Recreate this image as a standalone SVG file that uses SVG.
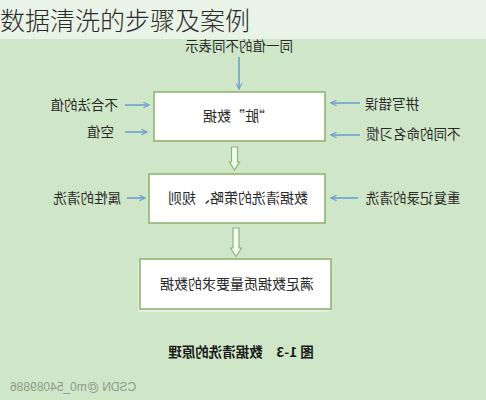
<svg xmlns="http://www.w3.org/2000/svg" width="486" height="400" viewBox="0 0 486 400">
<defs>
<style>
.t{font-family:"Noto Sans CJK SC","Liberation Serif",serif;font-size:13.5px;fill:#2a2a2a}
.bt{font-family:"Noto Sans CJK SC","Liberation Serif",serif;font-size:14px;fill:#2a2a2a;text-anchor:middle}
.box{fill:#ffffff;stroke:#8fb572;stroke-width:1.6}
.ar{stroke:#6c9fd2;stroke-width:1.6;fill:none}
.hol{fill:#f4fbf1;stroke:#8fb572;stroke-width:1.2}
</style>
<marker id="ah" viewBox="0 0 10 10" refX="9" refY="5" markerWidth="7" markerHeight="7" orient="auto" markerUnits="userSpaceOnUse">
<path d="M1,1 L9,5 L1,9" fill="none" stroke="#6c9fd2" stroke-width="1.6"/>
</marker>
</defs>
<rect x="0" y="0" width="486" height="400" fill="#cfe7c8"/>
<g transform="translate(486,0) scale(-1,1)">
<text class="t" x="247" y="51" text-anchor="middle">同一值的不同表示</text>
<g id="connectors">
<line class="ar" x1="247" y1="57" x2="247" y2="89" marker-end="url(#ah)"/>
<line class="ar" x1="361" y1="105" x2="337" y2="105" marker-end="url(#ah)"/>
<line class="ar" x1="361" y1="132" x2="339" y2="132" marker-end="url(#ah)"/>
<line class="ar" x1="126" y1="103" x2="155" y2="103" marker-end="url(#ah)"/>
<line class="ar" x1="126" y1="135" x2="155" y2="135" marker-end="url(#ah)"/>
<line class="ar" x1="359" y1="198" x2="341" y2="198" marker-end="url(#ah)"/>
<line class="ar" x1="128" y1="198" x2="155" y2="198" marker-end="url(#ah)"/>
<path class="hol" d="M248.5,147 L254.5,147 L254.5,162 L256.5,162 L251.5,170 L246.5,162 L248.5,162 Z"/>
<path class="hol" d="M247,228 L253,228 L253,248 L255.5,248 L250,256.5 L244.5,248 L247,248 Z"/>
</g>
<g id="n1">
<rect class="box" x="161" y="92" width="171" height="49"/>
<text class="bt" x="248" y="121">“脏”数据</text>
</g>
<g id="n2">
<rect class="box" x="161" y="174" width="176" height="49"/>
<text class="bt" x="248" y="203">数据清洗的策略、规则</text>
</g>
<g id="n3">
<rect x="157" y="262" width="191" height="50" fill="#e3f0de"/>
<rect class="box" x="155" y="259" width="191" height="50"/>
<text class="bt" x="249" y="289">满足数据质量要求的数据</text>
</g>
<g id="l1"><text class="t" x="368" y="110">不合法的值</text></g>
<g id="l2"><text class="t" x="372" y="137">空值</text></g>
<g id="l3"><text class="t" x="121" y="109" text-anchor="end">拼写错误</text></g>
<g id="l4"><text class="t" x="120" y="139" text-anchor="end">不同的命名习惯</text></g>
<g id="l5"><text class="t" x="365" y="203">属性的清洗</text></g>
<g id="l6"><text class="t" x="120" y="203" text-anchor="end">重复记录的清洗</text></g>
<text x="245" y="357" text-anchor="middle" font-family="'Noto Sans CJK SC','Liberation Serif',serif" font-size="13.5" font-weight="bold" fill="#1a1a1a">图 1-3　数据清洗的原理</text>
<text x="476" y="391" text-anchor="end" font-family="'Liberation Sans',Arial,sans-serif" font-size="12" fill="#8f9a8c">CSDN @m0_54089886</text>
</g>
<rect x="0" y="0" width="486" height="39" fill="#e9f3e7"/>
<text x="0" y="30" font-family="'Noto Sans CJK SC','Noto Sans',sans-serif" font-size="25" font-weight="300" fill="#2b2b2b">数据清洗的步骤及案例</text>
</svg>
